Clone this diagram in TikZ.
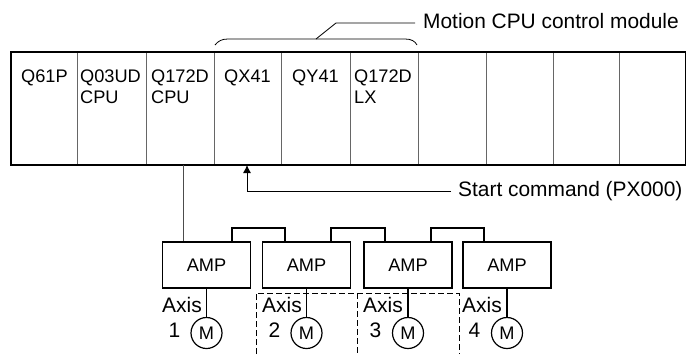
\documentclass[tikz,border=0pt]{standalone}
\usepackage{fontspec}
\setmainfont{Liberation Sans}
\usepackage{tikz}
\usetikzlibrary{positioning,arrows.meta,calc}
\tikzset{
  slotbox/.style={draw=black!60,line width=1pt,minimum height=112pt,inner sep=0pt,anchor=north west},
  slottext/.style={anchor=north west,align=left,inner sep=0pt,font=\fontsize{18.2}{21.5}\selectfont},
  ampbox/.style={draw,line width=1.3pt,minimum width=88pt,minimum height=46pt,inner sep=0pt,font=\fontsize{18.2}{20}\selectfont},
  motor/.style={draw,circle,line width=1.2pt,minimum size=31pt,inner sep=0pt,font=\fontsize{18.2}{20}\selectfont},
  axistext/.style={align=left,inner sep=0pt,anchor=north west,font=\fontsize{21}{25}\selectfont},
  calltext/.style={anchor=west,inner sep=0pt,font=\fontsize{20.9}{24}\selectfont},
  link/.style={line width=1.1pt},
  framedash/.style={dash pattern=on 6pt off 3pt,line width=.8pt},
}
\begin{document}
\begin{tikzpicture}[x=1pt,y=-1pt]
    \useasboundingbox (0,0) rectangle (686,354);
    % base unit slots
    \foreach \i/\l/\r in {1/11/77,2/77/146,3/146/214,4/214/281,5/281/350,6/350/418,7/418/486,8/486/553,9/553/619,10/619/685} {
        \pgfmathsetmacro{\w}{\r-\l}
        \node[slotbox,minimum width=\w pt] (s\i) at (\l,52) {};
    }
    \draw[line width=1.5pt] (s1.north west) rectangle (s10.south east);
    \node[slottext] (t1) at (21,69.5) {Q61P};
    \node[slottext] (t2) at (80,69.5) {Q03UD\\CPU};
    \node[slottext] (t3) at (151,69.5) {Q172D\\CPU};
    \node[slottext] (t4) at (224,69.5) {QX41};
    \node[slottext] (t5) at (292,69.5) {QY41};
    \node[slottext] (t6) at (354,69.5) {Q172D\\LX};

    % bracket over the control module
    \coordinate (b1) at (215,45);
    \coordinate (b2) at (417,45);
    \coordinate (b3) at (316,39);
    \node[calltext] (cm) at (423,21) {Motion CPU control module};
    \draw[line width=.8pt] (b1) .. controls (218,41) and (222,39) .. (228,39) -- (405,39) .. controls (411,39) and (415,41) .. (b2);
    \draw[line width=.8pt] (b3) -- (336,23) -- (415,23);

    % start command
    \node[calltext] (sc) at (458,191) {Start command (PX000)};
    \coordinate (a1) at (247,165);
    \draw[-{Latex[length=8pt,width=8pt]},line width=.8pt] (451,191) -- (247,191) -- (a1);

    % amplifiers and motors
    \foreach \i/\x in {1/206.5,2/306.5,3/408,4/507} {
        \node[ampbox] (amp\i) at (\x,265) {AMP};
        \node[motor] (m\i) at (\x,333) {M};
        \draw[link] (amp\i.south) -- (m\i.north);
    }
    \foreach \i/\x in {1/162,2/262,3/363,4/462} {
        \node[axistext] (ax\i) at (\x,297) {Axis\\\hspace*{6.5pt}\i};
    }
    % connection to the Motion CPU
    \coordinate (c1) at (183,164.5);
    \draw[line width=.8pt,black!70] (c1) -- (c1 |- amp1.north);
    % links between amplifiers
    \draw[link] ($(amp1.north)+(25.5,0)$) |- (285,228) -- (285,242);
    \draw[link] ($(amp2.north)+(24.5,0)$) |- (385,228) -- (385,242);
    \draw[link] ($(amp3.north)+(23,0)$) |- (484,228) -- (484,242);

    % second and third axis frame
    \draw[framedash] (256,354) -- (256,293) -- (459,293) -- (459,354);
    \draw[framedash] (357,293) -- (357,354);
\end{tikzpicture}
\end{document}
